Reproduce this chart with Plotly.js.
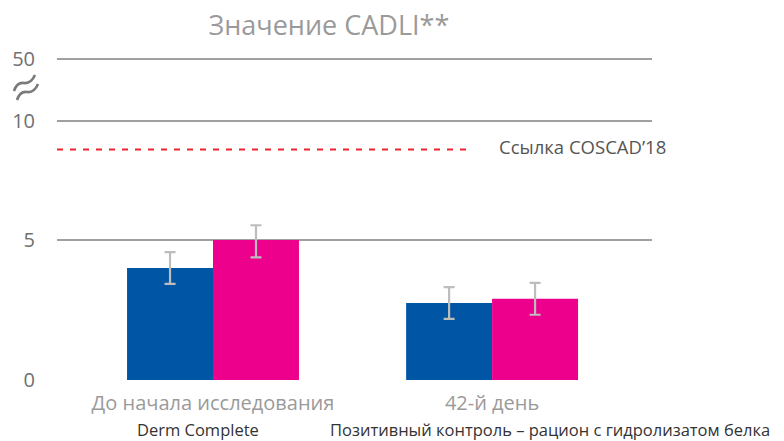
<!DOCTYPE html>
<html>
<head>
<meta charset="utf-8">
<script src="https://cdn.plot.ly/plotly-3.0.1.min.js"></script>
<style>html,body{margin:0;padding:0;background:#fff;}#chart{width:784px;height:441px;}</style>
</head>
<body>
<div id="chart"></div>
<script>
// ---- data ----
var categories = ['До начала исследования', '42-й день'];
var seriesNames = ['Derm Complete', 'Позитивный контроль – рацион с гидролизатом белка'];
var dermValues = [4.0, 2.75];
var dermErrors = [0.57, 0.57];
var controlValues = [5.0, 2.9];
var controlErrors = [0.62, 0.57];
var referenceValue = 8.8;
var referenceLabel = 'Ссылка COSCAD\u201918';
var tickValues = [0, 5, 10, 50];
var tickLabels = ['0', '5', '10', '50'];
var chartTitle = 'Значение CADLI**';

// ---- broken (piecewise) axis scale ----
var scaleReal = [0, 5, 10, 50];
var scaleDisp = [0, 5, 9.25, 11.464];
function mapY(v) {
  for (var i = 0; i < scaleReal.length - 1; i++) {
    if (v <= scaleReal[i + 1] || i === scaleReal.length - 2) {
      var t = (v - scaleReal[i]) / (scaleReal[i + 1] - scaleReal[i]);
      return scaleDisp[i] + t * (scaleDisp[i + 1] - scaleDisp[i]);
    }
  }
}
function barTrace(name, vals, errs, color) {
  return {
    type: 'bar', name: name, x: categories,
    y: vals.map(mapY),
    marker: {color: color},
    error_y: {
      type: 'data', symmetric: false,
      array: vals.map(function (v, i) { return mapY(v + errs[i]) - mapY(v); }),
      arrayminus: vals.map(function (v, i) { return mapY(v) - mapY(v - errs[i]); }),
      color: '#bdbdbd', thickness: 2.2, width: 5.5
    },
    hoverinfo: 'skip'
  };
}
// axis-break squiggle drawn as a decoration (paper coords from the plot box)
var M = {l: 57, r: 132, t: 50, b: 61}, W = 784, H = 441;
function px(x) { return ((x - M.l) / (W - M.l - M.r)).toFixed(4); }
function py(y) { return ((H - M.b - y) / (H - M.t - M.b)).toFixed(4); }
function wave(x0, y0, cx, cy, mx, my, x1, y1) {
  return 'M' + px(x0) + ',' + py(y0) + ' Q' + px(cx) + ',' + py(cy) + ' ' + px(mx) + ',' + py(my) +
         ' T' + px(x1) + ',' + py(y1);
}
var font = 'Open Sans, Lato, sans-serif';
var data = [
  barTrace(seriesNames[0], dermValues, dermErrors, '#0055a5'),
  barTrace(seriesNames[1], controlValues, controlErrors, '#ec008c')
];
var layout = {
  width: W, height: H,
  margin: M,
  paper_bgcolor: '#fff', plot_bgcolor: '#fff',
  showlegend: false,
  barmode: 'group', bargap: 0.384, bargroupgap: 0,
  font: {family: font},
  title: {text: chartTitle, font: {size: 27, color: '#9a9a9a', family: font},
          x: 0.457, xref: 'paper', xanchor: 'center', y: 0.943, yref: 'container', yanchor: 'middle'},
  xaxis: {
    type: 'category', range: [-0.559, 1.573], showgrid: false, zeroline: false, showline: false,
    ticks: '', tickfont: {size: 20, color: '#9a9a9a', family: font}, ticklabelstandoff: 9
  },
  yaxis: {
    range: [0, 11.786], tickmode: 'array',
    tickvals: tickValues.map(mapY), ticktext: tickLabels,
    showgrid: true, gridcolor: '#a0a0a0', gridwidth: 1.6,
    zeroline: false, showline: false, ticks: '',
    tickfont: {size: 20, color: '#707070', family: font}, ticklabelstandoff: 21
  },
  shapes: [
    {type: 'line', xref: 'paper', yref: 'y', x0: 0, x1: 0.694,
     y0: mapY(referenceValue), y1: mapY(referenceValue),
     line: {color: '#ec2530', width: 2, dash: '6px,7px'}},
    {type: 'path', xref: 'paper', yref: 'paper', path: wave(14, 91, 17, 82, 24, 83, 35, 75),
     line: {color: '#7a7a7a', width: 2.6}},
    {type: 'path', xref: 'paper', yref: 'paper', path: wave(17, 100, 20, 91, 27, 92, 38, 84),
     line: {color: '#7a7a7a', width: 2.6}}
  ],
  annotations: [
    {text: referenceLabel, xref: 'paper', yref: 'y', x: 0.7395, y: mapY(referenceValue),
     xanchor: 'left', yanchor: 'middle', yshift: 3, showarrow: false,
     font: {size: 18.5, color: '#555', family: font}},
    {text: seriesNames[0], xref: 'paper', yref: 'paper', x: 0.237, y: -0.1485,
     xanchor: 'center', yanchor: 'middle', showarrow: false,
     font: {size: 16.5, color: '#333', family: font}},
    {text: seriesNames[1], xref: 'paper', yref: 'paper', x: 0.4555, y: -0.1485,
     xanchor: 'left', yanchor: 'middle', showarrow: false,
     font: {size: 16.5, color: '#333', family: font}}
  ]
};
Plotly.newPlot('chart', data, layout, {displayModeBar: false, staticPlot: true});
</script>
</body>
</html>
